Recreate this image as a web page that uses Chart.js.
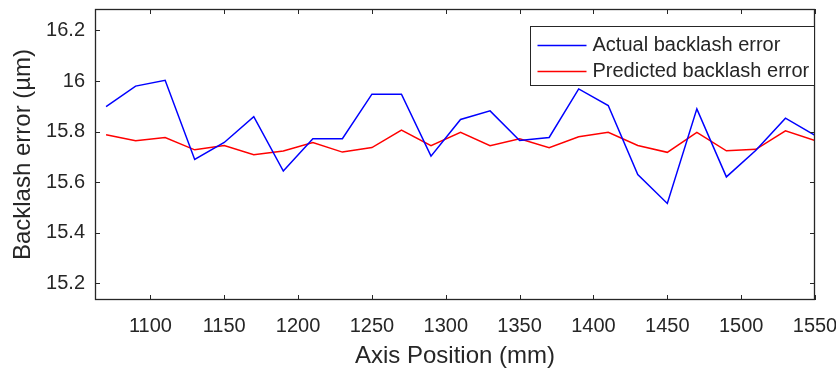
<!DOCTYPE html>
<html>
<head>
<meta charset="utf-8">
<script src="https://cdn.jsdelivr.net/npm/chart.js@4/dist/chart.umd.min.js"></script>
<style>
  html, body { margin: 0; padding: 0; background: #fff; }
  #wrap { width: 836px; height: 376px; }
</style>
</head>
<body>
<div id="wrap"><canvas id="c" width="836" height="376"></canvas></div>
<script>
// axis positions (mm), one sample every 20 mm
const positions = [1070, 1090, 1110, 1130, 1150, 1170, 1190, 1210, 1230, 1250, 1270, 1290, 1310,
                   1330, 1350, 1370, 1390, 1410, 1430, 1450, 1470, 1490, 1510, 1530, 1550];
const actualError = [15.899, 15.980, 16.003, 15.690, 15.757, 15.859, 15.644, 15.772, 15.772, 15.948,
                     15.948, 15.703, 15.848, 15.882, 15.765, 15.777, 15.969, 15.903, 15.630, 15.516,
                     15.890, 15.621, 15.726, 15.853, 15.785];
const predictedError = [15.788, 15.764, 15.777, 15.728, 15.745, 15.709, 15.723, 15.757, 15.719, 15.737,
                        15.806, 15.744, 15.797, 15.744, 15.772, 15.736, 15.780, 15.797, 15.745, 15.718,
                        15.797, 15.724, 15.730, 15.803, 15.765];
const xTicks = [1100, 1150, 1200, 1250, 1300, 1350, 1400, 1450, 1500, 1550];
const yTicks = [15.2, 15.4, 15.6, 15.8, 16.0, 16.2];

const axisColor = '#262626';
const fontFamily = '"Liberation Sans", Arial, Helvetica, sans-serif';

// matlab style box with inward ticks on all four sides
const matlabFrame = {
  id: 'matlabFrame',
  afterDatasetsDraw(chart) {
    const { ctx, chartArea: a, scales: { x, y } } = chart;
    const tl = 5;
    ctx.save();
    ctx.strokeStyle = axisColor;
    ctx.lineWidth = 1;
    ctx.beginPath();
    x.ticks.forEach(t => {
      const px = Math.round(x.getPixelForValue(t.value)) + 0.5;
      ctx.moveTo(px, a.bottom); ctx.lineTo(px, a.bottom - tl);
      ctx.moveTo(px, a.top); ctx.lineTo(px, a.top + tl);
    });
    y.ticks.forEach(t => {
      const py = Math.round(y.getPixelForValue(t.value)) + 0.5;
      ctx.moveTo(a.left, py); ctx.lineTo(a.left + tl, py);
      ctx.moveTo(a.right, py); ctx.lineTo(a.right - tl, py);
    });
    ctx.stroke();
    ctx.lineWidth = 1.3;
    ctx.strokeRect(Math.round(a.left) + 0.5, Math.round(a.top) + 0.5,
                   Math.round(a.width) - 1, Math.round(a.height) - 1);
    ctx.restore();
  }
};

// boxed legend inside the axes, top right
const boxLegend = {
  id: 'boxLegend',
  afterDraw(chart) {
    const { ctx, chartArea: a } = chart;
    const w = 284, h = 59;
    const bx = Math.round(a.right) - 1 - w + 0.5, by = 26.5;
    ctx.save();
    ctx.fillStyle = '#fff';
    ctx.fillRect(bx, by, w, h);
    ctx.strokeStyle = axisColor;
    ctx.lineWidth = 1;
    ctx.strokeRect(bx, by, w, h);
    ctx.font = '20px ' + fontFamily;
    ctx.textBaseline = 'middle';
    ctx.textAlign = 'left';
    const rows = [45, 71];
    chart.data.datasets.forEach((ds, i) => {
      const yy = rows[i] + 0.5;
      ctx.strokeStyle = ds.borderColor;
      ctx.lineWidth = 1.5;
      ctx.beginPath();
      ctx.moveTo(bx + 7, yy);
      ctx.lineTo(bx + 56, yy);
      ctx.stroke();
      ctx.fillStyle = axisColor;
      ctx.fillText(ds.label, bx + 62, rows[i]);
    });
    ctx.restore();
  }
};

new Chart(document.getElementById('c'), {
  type: 'line',
  data: {
    datasets: [
      {
        label: 'Actual backlash error',
        data: positions.map((p, i) => ({ x: p, y: actualError[i] })),
        borderColor: '#0000ff',
        borderWidth: 1.5,
        pointRadius: 0,
        tension: 0,
        fill: false
      },
      {
        label: 'Predicted backlash error',
        data: positions.map((p, i) => ({ x: p, y: predictedError[i] })),
        borderColor: '#ff0000',
        borderWidth: 1.5,
        pointRadius: 0,
        tension: 0,
        fill: false
      }
    ]
  },
  options: {
    responsive: false,
    devicePixelRatio: 1,
    animation: false,
    layout: { padding: { left: 0, top: 9, right: 21, bottom: 0 } },
    plugins: {
      legend: { display: false },
      tooltip: { enabled: false }
    },
    scales: {
      x: {
        type: 'linear',
        min: 1062.5,
        max: 1550,
        afterBuildTicks: s => { s.ticks = xTicks.map(v => ({ value: v })); },
        afterFit: s => { s.height = 76; s.paddingLeft = 0; s.paddingRight = 0; },
        grid: { display: false, drawTicks: false },
        border: { display: false },
        ticks: {
          color: axisColor,
          font: { family: fontFamily, size: 20 },
          padding: 14,
          maxRotation: 0,
          autoSkip: false,
          callback: v => String(v)
        },
        title: {
          display: true,
          text: 'Axis Position (mm)',
          color: axisColor,
          font: { family: fontFamily, size: 24 },
          padding: { top: 5, bottom: 5 }
        }
      },
      y: {
        min: 15.134,
        max: 16.285,
        afterBuildTicks: s => { s.ticks = yTicks.map(v => ({ value: v })); },
        afterFit: s => { s.width = 95; s.paddingTop = 0; s.paddingBottom = 0; },
        grid: { display: false, drawTicks: false },
        border: { display: false },
        ticks: {
          color: axisColor,
          font: { family: fontFamily, size: 20 },
          padding: 10,
          autoSkip: false,
          callback: v => String(Number(v.toFixed(1)))
        },
        title: {
          display: true,
          text: 'Backlash error (µm)',
          color: axisColor,
          font: { family: fontFamily, size: 24 },
          padding: { top: 9, bottom: 9 }
        }
      }
    }
  },
  plugins: [matlabFrame, boxLegend]
});
</script>
</body>
</html>
